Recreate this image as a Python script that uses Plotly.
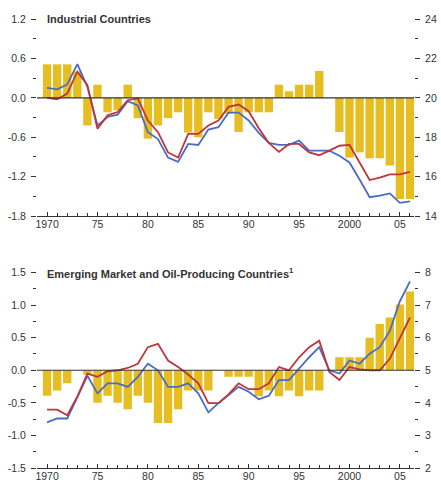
import plotly.graph_objects as go

years = list(range(1970, 2007))

# Top panel: Industrial Countries
ind_bars = [0.51, 0.51, 0.51, 0.40, -0.42, 0.20, -0.22, -0.19, 0.20, -0.31,
            -0.62, -0.42, -0.31, -0.22, -0.53, -0.60, -0.22, -0.32, -0.24, -0.52,
            -0.22, -0.22, -0.22, 0.20, 0.10, 0.20, 0.20, 0.41, 0.0, -0.52,
            -0.91, -0.83, -0.92, -0.92, -1.03, -1.54, -1.54]
ind_blue = [20.51, 20.43, 20.68, 21.71, 20.56, 18.60, 19.03, 19.15, 19.83, 19.62,
            18.26, 17.91, 16.97, 16.75, 17.66, 17.61, 18.39, 18.51, 19.25, 19.25,
            18.85, 18.22, 17.71, 17.61, 17.61, 17.83, 17.32, 17.32, 17.32, 17.06,
            16.72, 15.86, 14.96, 15.04, 15.15, 14.67, 14.75]
ind_red = [20.00, 19.93, 20.22, 21.33, 20.65, 18.43, 19.11, 19.28, 19.88, 19.97,
           18.85, 18.26, 17.23, 16.97, 18.17, 18.17, 18.60, 18.85, 19.54, 19.66,
           19.32, 18.46, 17.71, 17.26, 17.66, 17.66, 17.23, 17.09, 17.32, 17.57,
           17.61, 16.72, 15.83, 15.95, 16.12, 16.12, 16.24]

# Bottom panel: Emerging Market and Oil-Producing Countries
em_bars = [-0.39, -0.31, -0.20, 0.0, -0.07, -0.50, -0.39, -0.50, -0.60, -0.39,
           -0.50, -0.81, -0.81, -0.60, -0.31, -0.31, -0.31, 0.0, -0.10, -0.10,
           -0.10, -0.40, -0.31, -0.40, -0.31, -0.40, -0.31, -0.31, 0.0, 0.20,
           0.20, 0.20, 0.50, 0.71, 0.81, 1.01, 1.21]
em_blue = [3.40, 3.52, 3.52, 4.19, 4.83, 4.29, 4.60, 4.60, 4.49, 4.80,
           5.20, 5.00, 4.49, 4.49, 4.60, 4.29, 3.71, 3.99, 4.24, 4.49,
           4.34, 4.11, 4.22, 4.70, 4.70, 5.05, 5.40, 5.71, 5.00, 4.90,
           5.30, 5.20, 5.51, 5.71, 6.21, 7.12, 7.73]
em_red = [3.79, 3.79, 3.62, 4.19, 4.90, 4.80, 4.97, 5.00, 5.07, 5.20,
          5.71, 5.81, 5.30, 5.10, 4.87, 4.60, 3.99, 3.99, 4.26, 4.60,
          4.42, 4.42, 4.60, 5.10, 5.00, 5.40, 5.71, 5.91, 4.95, 4.70,
          5.10, 5.03, 5.00, 5.00, 5.35, 5.96, 6.62]

x_tickvals = [1970, 1975, 1980, 1985, 1990, 1995, 2000, 2005]
x_ticktext = ["1970", "75", "80", "85", "90", "95", "2000", "05"]

top_left_vals = [1.2, 0.6, 0.0, -0.6, -1.2, -1.8]
top_left_text = ["1.2", "0.6", "0.0", "-0.6", "-1.2", "-1.8"]
top_right_vals = [24, 22, 20, 18, 16, 14]
top_right_text = ["24", "22", "20", "18", "16", "14"]
bot_left_vals = [1.5, 1.0, 0.5, 0.0, -0.5, -1.0, -1.5]
bot_left_text = ["1.5", "1.0", "0.5", "0.0", "-0.5", "-1.0", "-1.5"]
bot_right_vals = [8, 7, 6, 5, 4, 3, 2]
bot_right_text = ["8", "7", "6", "5", "4", "3", "2"]

BAR = "#E6BE22"
BLUE = "#4A6CC4"
RED = "#C0343C"
FONT = "Liberation Sans, Arial, sans-serif"
TXT = "#333333"

fig = go.Figure()
fig.add_trace(go.Bar(x=years, y=ind_bars, marker=dict(color=BAR, line=dict(width=0)),
                     xaxis="x", yaxis="y", showlegend=False))
fig.add_trace(go.Scatter(x=years, y=ind_blue, mode="lines", line=dict(color=BLUE, width=1.8),
                         xaxis="x", yaxis="y2", showlegend=False))
fig.add_trace(go.Scatter(x=years, y=ind_red, mode="lines", line=dict(color=RED, width=1.8),
                         xaxis="x", yaxis="y2", showlegend=False))
fig.add_trace(go.Bar(x=years, y=em_bars, marker=dict(color=BAR, line=dict(width=0)),
                     xaxis="x2", yaxis="y3", showlegend=False))
fig.add_trace(go.Scatter(x=years, y=em_blue, mode="lines", line=dict(color=BLUE, width=1.8),
                         xaxis="x2", yaxis="y4", showlegend=False))
fig.add_trace(go.Scatter(x=years, y=em_red, mode="lines", line=dict(color=RED, width=1.8),
                         xaxis="x2", yaxis="y4", showlegend=False))

xcommon = dict(range=[1969.0, 2006.4], tickvals=x_tickvals, ticktext=x_ticktext,
               ticks="inside", ticklen=4, tickcolor=TXT, showline=True, linecolor=TXT,
               linewidth=1, showgrid=False, zeroline=False, automargin=False,
               ticklabelstandoff=-2,
               minor=dict(dtick=1, tick0=1970, ticks="inside", ticklen=3, tickcolor=TXT),
               tickfont=dict(family=FONT, size=10.5, color=TXT), domain=[0, 1])
yleft = dict(side="left", ticks="outside", ticklen=5, tickcolor=TXT, tickwidth=1.2,
             showline=False, showgrid=False, zeroline=False, ticklabelstandoff=3,
             automargin=False, tickfont=dict(family=FONT, size=10.5, color=TXT))
yright = dict(side="right", ticks="outside", ticklen=5, tickcolor=TXT, tickwidth=1.2,
              showline=False, showgrid=False, zeroline=False, ticklabelstandoff=3,
              automargin=False, tickfont=dict(family=FONT, size=10.5, color=TXT))

top_dom = [0.5610, 1.0]
bot_dom = [0.0, 0.4353]

fig.update_layout(
    width=441, height=484,
    margin=dict(l=37, r=27, t=19, b=16),
    paper_bgcolor="white", plot_bgcolor="white",
    bargap=0.17,
    xaxis=dict(xcommon, anchor="y"),
    xaxis2=dict(xcommon, anchor="y3"),
    yaxis=dict(yleft, domain=top_dom, anchor="x", range=[-1.8, 1.2],
               tickvals=top_left_vals, ticktext=top_left_text,
               minor=dict(dtick=0.3, tick0=0, ticks="outside", ticklen=3, tickcolor=TXT)),
    yaxis2=dict(yright, overlaying="y", anchor="x", range=[14, 24],
                tickvals=top_right_vals, ticktext=top_right_text,
                minor=dict(dtick=1, tick0=0, ticks="outside", ticklen=3, tickcolor=TXT)),
    yaxis3=dict(yleft, domain=bot_dom, anchor="x2", range=[-1.5, 1.5],
                tickvals=bot_left_vals, ticktext=bot_left_text,
                minor=dict(dtick=0.25, tick0=0, ticks="outside", ticklen=3, tickcolor=TXT)),
    yaxis4=dict(yright, overlaying="y3", anchor="x2", range=[2, 8],
                tickvals=bot_right_vals, ticktext=bot_right_text,
                minor=dict(dtick=0.5, tick0=0, ticks="outside", ticklen=3, tickcolor=TXT)),
    shapes=[
        dict(type="line", xref="x domain", x0=0, x1=1, yref="y", y0=0, y1=0,
             line=dict(color="#333333", width=1.2), layer="above"),
        dict(type="line", xref="x2 domain", x0=0, x1=1, yref="y3", y0=0, y1=0,
             line=dict(color="#333333", width=1.2), layer="above"),
    ],
    annotations=[
        dict(text="<b>Industrial Countries</b>", xref="x domain", yref="y domain",
             x=0.022, y=1.0, xanchor="left", yanchor="middle", showarrow=False,
             font=dict(family=FONT, size=11, color=TXT)),
        dict(text="<b>Emerging Market and Oil-Producing Countries<sup>1</sup></b>",
             xref="x2 domain", yref="y3 domain",
             x=0.022, y=1.0, xanchor="left", yanchor="middle", showarrow=False,
             font=dict(family=FONT, size=11, color=TXT)),
    ],
)

fig.write_html("out.html", config={"displayModeBar": False},
               post_script="document.body.style.margin='0';document.body.style.overflow='hidden';")
